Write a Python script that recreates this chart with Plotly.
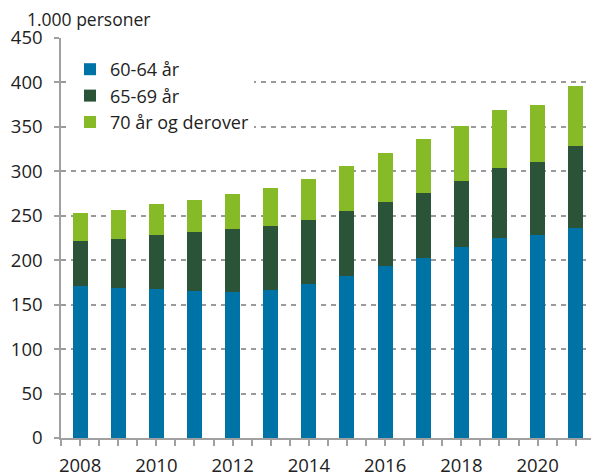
import plotly.graph_objects as go

years = list(range(2008, 2022))
age_60_64 = [171, 169, 168, 165, 164, 166, 173, 182, 194, 203, 215, 225, 228, 236]
age_65_69 = [51, 55, 60, 67, 71, 72, 72, 73, 72, 73, 74, 79, 82, 92]
age_70_plus = [31, 32, 35, 36, 40, 43, 46, 51, 55, 60, 62, 65, 65, 68]

series = [
    ("60-64 år", age_60_64, "#0073a6"),
    ("65-69 år", age_65_69, "#2a5337"),
    ("70 år og derover", age_70_plus, "#86bb27"),
]

FONT = "Open Sans"
fig = go.Figure()
for i, (name, vals, col) in enumerate(series):
    fig.add_trace(go.Bar(
        x=years, y=vals, name=name, width=0.394,
        marker=dict(color=col, line=dict(width=0)),
        legendgroup=f"g{i}",
    ))

fig.update_layout(
    width=591, height=473,
    barmode="stack",
    plot_bgcolor="white", paper_bgcolor="white",
    margin=dict(l=61, r=0, t=38, b=35, pad=0, autoexpand=False),
    font=dict(family=FONT, size=18.5, color="#222222"),
    title=dict(text="1.000 personer", x=27/591, xanchor="left", xref="container",
               y=1-20/473, yanchor="middle", yref="container",
               font=dict(family=FONT, size=17.5, color="#222222")),
    legend=dict(x=(70-61)/530, xanchor="left", y=1-(51-38)/400, yanchor="top",
                bgcolor="white", traceorder="grouped", tracegroupgap=0,
                font=dict(family=FONT, size=18, color="#222222"),
                itemclick=False),
    showlegend=True,
)
fig.update_yaxes(
    range=[0, 450], dtick=50, tick0=0, automargin=False,
    showgrid=True, gridcolor="#9a9a9a", gridwidth=1.5, griddash="5px,5px",
    showline=True, linecolor="#a0a0a0", linewidth=1.5,
    ticks="outside", ticklen=5, tickcolor="#a0a0a0", tickwidth=1.5,
    zeroline=False, ticklabelstandoff=8,
)
fig.update_xaxes(
    range=[2007.5, 2021.4], tick0=2008, dtick=2, automargin=False,
    showgrid=False, showline=True, linecolor="#a0a0a0", linewidth=1.5,
    ticks="outside", ticklen=6, tickcolor="#a0a0a0", tickwidth=1.5,
    minor=dict(tick0=2007.5, dtick=0.5, ticks="outside", ticklen=6,
               tickcolor="#a0a0a0", tickwidth=1.5, showgrid=False),
    zeroline=False, ticklabelstandoff=4,
)

fig.write_html(
    "out.html",
    config={"displayModeBar": False},
    post_script="document.body.style.margin='0';document.body.style.overflow='hidden';",
)
